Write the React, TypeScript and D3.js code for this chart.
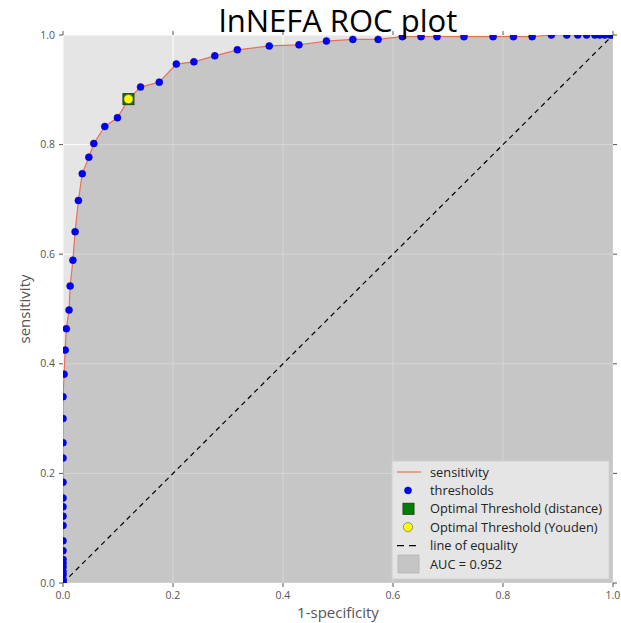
import React from "react";
import * as d3 from "d3";

// ROC points (1-specificity, sensitivity)
const fpr = [
  0, 0, 0, 0, 0, 0, 0, 0, 0, 0, 0, 0, 0, 0, 0, 0, 0, 0, 0,
  0.002, 0.004, 0.006, 0.011, 0.013, 0.018, 0.022, 0.028, 0.035, 0.047,
  0.056, 0.076, 0.099, 0.119, 0.141, 0.175, 0.206, 0.238, 0.276, 0.317,
  0.375, 0.429, 0.479, 0.527, 0.573, 0.617, 0.651, 0.68, 0.729, 0.782,
  0.819, 0.853, 0.888, 0.916, 0.936, 0.952, 0.967, 0.976, 0.985, 0.995, 1,
];
const tpr = [
  0, 0.002, 0.007, 0.015, 0.021, 0.029, 0.036, 0.043, 0.059, 0.077, 0.105,
  0.122, 0.139, 0.155, 0.184, 0.228, 0.256, 0.3, 0.34,
  0.381, 0.425, 0.464, 0.498, 0.542, 0.589, 0.641, 0.698, 0.747, 0.777,
  0.802, 0.833, 0.849, 0.883, 0.905, 0.914, 0.947, 0.951, 0.962, 0.973,
  0.98, 0.982, 0.989, 0.992, 0.992, 0.997, 0.997, 0.997, 0.997, 0.997,
  0.997, 0.997, 1, 1, 1, 1, 1, 1, 1, 1, 1,
];
const optimal = [0.119, 0.883];
const auc = 0.952;
const ticks = [0, 0.2, 0.4, 0.6, 0.8, 1.0];

const W = 621;
const H = 623;
const m = { left: 63, right: 8, top: 35, bottom: 40 };
const font = "'Open Sans', 'DejaVu Sans', sans-serif";

export default function App() {
  const x = d3.scaleLinear().domain([0, 1]).range([m.left, W - m.right]);
  const y = d3.scaleLinear().domain([0, 1]).range([H - m.bottom, m.top]);
  const pts: [number, number][] = fpr.map((f, i) => [f, tpr[i]]);

  const line = d3
    .line<[number, number]>()
    .x((d) => x(d[0]))
    .y((d) => y(d[1]));
  const area = d3
    .area<[number, number]>()
    .x((d) => x(d[0]))
    .y0(y(0))
    .y1((d) => y(d[1]));

  const [x0, x1] = x.range();
  const [y0, y1] = y.range();

  const lx = 392;
  const ly = 461;
  const rowH = 18.4;
  const legendRows = [
    "sensitivity",
    "thresholds",
    "Optimal Threshold (distance)",
    "Optimal Threshold (Youden)",
    "line of equality",
    `AUC = ${auc}`,
  ];

  return (
    <svg
      width={W}
      height={H}
      style={{ position: "fixed", left: 0, top: 0, background: "#fff" }}
    >
      <defs>
        <clipPath id="plot-clip">
          <rect x={x0} y={y1} width={x1 - x0} height={y0 - y1} />
        </clipPath>
      </defs>

      <rect x={x0} y={y1} width={x1 - x0} height={y0 - y1} fill="#e5e5e5" />

      {ticks.map((t) => (
        <g key={"g" + t}>
          <line x1={x(t)} x2={x(t)} y1={y1} y2={y0} stroke="#fff" strokeWidth={1} />
          <line x1={x0} x2={x1} y1={y(t)} y2={y(t)} stroke="#fff" strokeWidth={1} />
        </g>
      ))}

      <g clipPath="url(#plot-clip)">
        <path d={area(pts) || ""} fill="#999" fillOpacity={0.4} />
        <path
          d={line([[0, 0], [1, 1]]) || ""}
          fill="none"
          stroke="#000"
          strokeWidth={1.2}
          strokeDasharray="5,4"
        />
        <path d={line(pts) || ""} fill="none" stroke="#e8705a" strokeWidth={1.2} />
        {pts.map((d, i) => (
          <circle key={i} cx={x(d[0])} cy={y(d[1])} r={3.5} fill="#0000ff" stroke="#00008b" strokeWidth={0.5} />
        ))}
        <rect
          x={x(optimal[0]) - 5.5}
          y={y(optimal[1]) - 5.5}
          width={11}
          height={11}
          fill="#008000"
          stroke="#2a3f1a"
          strokeWidth={1}
        />
        <circle cx={x(optimal[0])} cy={y(optimal[1])} r={4.6} fill="#ffff00" stroke="#555" strokeWidth={0.6} />
      </g>

      {/* ticks on all four sides */}
      {ticks.map((t) => (
        <g key={"t" + t} stroke="#555" strokeWidth={1}>
          <line x1={x(t)} x2={x(t)} y1={y0} y2={y0 + 4} />
          <line x1={x(t)} x2={x(t)} y1={y1} y2={y1 - 4} />
          <line x1={x0} x2={x0 - 4} y1={y(t)} y2={y(t)} />
          <line x1={x1} x2={x1 + 4} y1={y(t)} y2={y(t)} />
        </g>
      ))}
      {ticks.map((t) => (
        <g key={"l" + t} fontFamily={font} fontSize={10.5} fill="#555">
          <text x={x(t)} y={y0 + 16} textAnchor="middle">
            {t.toFixed(1)}
          </text>
          <text x={x0 - 8} y={y(t) + 3.5} textAnchor="end">
            {t.toFixed(1)}
          </text>
        </g>
      ))}

      <text x={(x0 + x1) / 2} y={618} textAnchor="middle" fontFamily={font} fontSize={15} fill="#555">
        1-specificity
      </text>
      <text
        transform={`translate(30,${(y0 + y1) / 2}) rotate(-90)`}
        textAnchor="middle"
        fontFamily={font}
        fontSize={15}
        fill="#555"
      >
        sensitivity
      </text>
      <text x={(x0 + x1) / 2} y={32} textAnchor="middle" fontFamily={font} fontSize={31} fill="#000">
        lnNEFA ROC plot
      </text>

      {/* legend */}
      <g>
        <rect x={lx} y={ly} width={217} height={118} fill="#e5e5e5" stroke="#d0d0d0" strokeWidth={1} />
        {legendRows.map((label, i) => {
          const cy = ly + 11 + i * rowH;
          return (
            <g key={label}>
              {i === 0 && <line x1={lx + 5} x2={lx + 29} y1={cy} y2={cy} stroke="#e8705a" strokeWidth={1.2} />}
              {i === 1 && <circle cx={lx + 16} cy={cy} r={3.5} fill="#0000ff" stroke="#00008b" strokeWidth={0.5} />}
              {i === 2 && <rect x={lx + 11} y={cy - 5.5} width={11} height={11} fill="#008000" stroke="#2a3f1a" strokeWidth={1} />}
              {i === 3 && <circle cx={lx + 16} cy={cy} r={4.6} fill="#ffff00" stroke="#555" strokeWidth={0.6} />}
              {i === 4 && <line x1={lx + 5} x2={lx + 28} y1={cy} y2={cy} stroke="#000" strokeWidth={1.2} strokeDasharray="7,5" />}
              {i === 5 && <rect x={lx + 6} y={cy - 9} width={21} height={18} fill="#c5c5c5" stroke="#b5b5b5" strokeWidth={0.8} />}
              <text x={lx + 38} y={cy + 4.5} fontFamily={font} fontSize={12.8} fill="#222">
                {label}
              </text>
            </g>
          );
        })}
      </g>
    </svg>
  );
}
